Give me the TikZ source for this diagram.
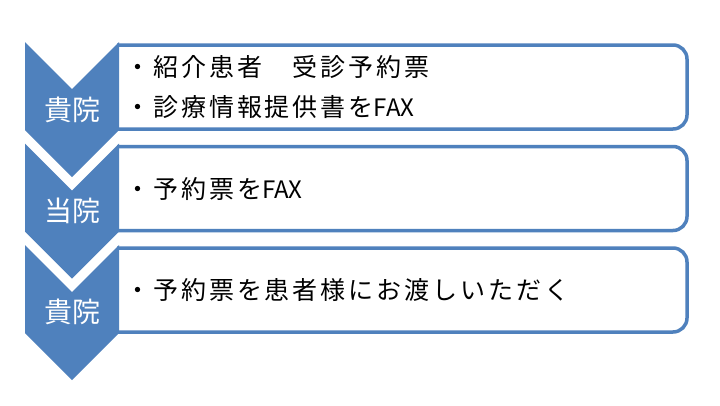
\documentclass[tikz,border=0pt]{standalone}
\usepackage{fontspec}
\newfontfamily\jp{Noto Sans CJK JP}[LetterSpace=11.8]
\newfontfamily\jpt{Noto Sans CJK JP}
\definecolor{accent}{HTML}{4F81BD}
\tikzset{
  chev/.style={fill=accent, draw=none},
  boxline/.style={draw=accent, line width=3.5pt, rounded corners=14pt},
  chevtext/.style={text=white, inner sep=0pt, font=\jpt\fontsize{28}{30}\selectfont},
  boxtext/.style={anchor=west, align=left, inner sep=0pt, text=black, font=\jp\fontsize{25}{40}\selectfont}
}
\newcommand{\fax}{{\jpt\fontsize{24}{40}\selectfont FAX}}
\begin{document}
\begin{tikzpicture}[x=1pt,y=-1pt]
\useasboundingbox (0,0) rectangle (720,405);
\fill[white] (0,0) rectangle (720,405);
% boxes
\foreach \t/\b in {45/129, 146.5/230.5, 248/332}{
  \draw[boxline] (117,\t) -- (687,\t) -- (687,\b) -- (117,\b);
}
% chevrons
\foreach \t in {42, 143.5, 245}{
  \fill[chev] (25,\t) -- (72,\t+47) -- (119,\t) -- (119,\t+88) -- (72,\t+135) -- (25,\t+88) -- cycle;
}
\node[chevtext] (c1) at (72,110) {貴院};
\node[chevtext] (c2) at (72,211) {当院};
\node[chevtext] (c3) at (72,312) {貴院};
\node[boxtext] (t1) at (125,87) {・紹介患者　受診予約票\\・診療情報提供書を\fax};
\node[boxtext] (t2) at (125,189) {・予約票を\fax};
\node[boxtext] (t3) at (125,290) {・予約票を患者様にお渡しいただく};
\end{tikzpicture}
\end{document}
